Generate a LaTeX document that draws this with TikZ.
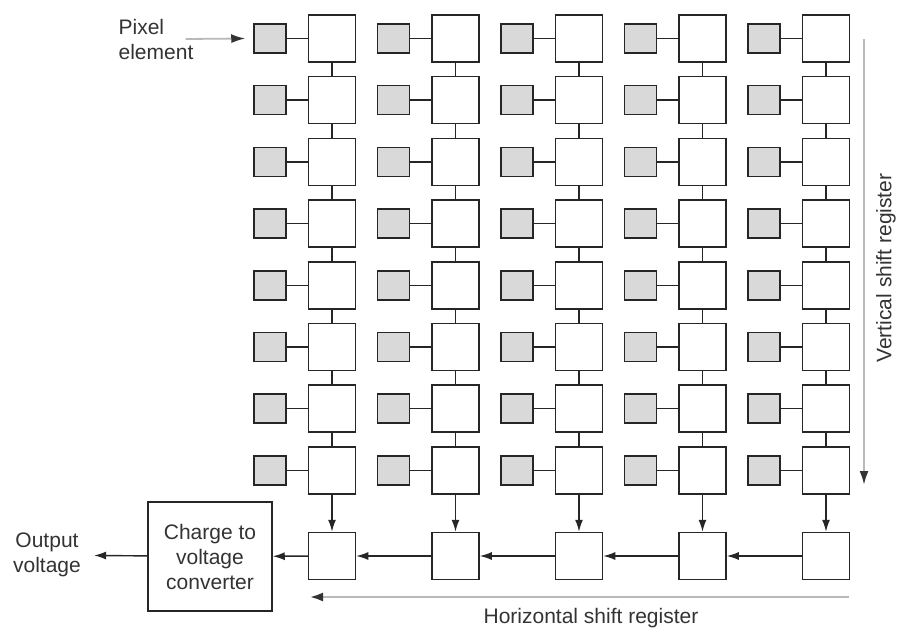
\documentclass[tikz,border=0pt]{standalone}
\usepackage{fontspec}
\setmainfont{Liberation Sans}
\usetikzlibrary{arrows.meta, positioning}

\begin{document}
\begin{tikzpicture}[
  x=1pt, y=-1pt,
  font=\fontsize{21}{25}\selectfont,
  cell/.style={rectangle, draw=black!85, line width=1.5pt, fill=white,
               minimum size=47pt, inner sep=0pt},
  pix/.style={rectangle, draw=black!85, line width=1.5pt, fill=gray!30,
              minimum width=32pt, minimum height=29pt, inner sep=0pt},
  wire/.style={draw=black!85, line width=1.5pt},
  flow/.style={-{Latex[length=12pt,width=8pt]}, draw=black!85, line width=1.4pt},
  regarrow/.style={-{Latex[length=14pt,width=9pt,color=black!80]}, draw=gray!55, line width=2.8pt},
  lbl/.style={text=black!80, align=center, inner sep=0pt}
]
  \useasboundingbox (0,0) rectangle (904,636);

  % pixel array
  \foreach \c in {1,...,5}{
    \foreach \r in {1,...,8}{
      \node[cell] (s\c\r) at ({332+123.5*(\c-1)}, {38.5+61.7*(\r-1)}) {};
      \node[pix, left=21pt of s\c\r] (p\c\r) {};
      \draw[wire] (p\c\r) -- (s\c\r);
    }
    \foreach \r [count=\n from 2] in {1,...,7}
      \draw[wire] (s\c\r) -- (s\c\n);
  }

  % horizontal register
  \foreach \c in {1,...,5}{
    \node[cell] (h\c) at ({332+123.5*(\c-1)}, 556) {};
    \draw[flow] (s\c8) -- (h\c);
  }
  \foreach \c [count=\n from 1] in {2,...,5}
    \draw[flow] (h\c) -- (h\n);

  % converter and output
  \node[cell, minimum width=124pt, minimum height=109pt, align=center, text=black!80]
    (conv) at (210,556.5) {Charge to\\voltage\\converter};
  \draw[flow] (h1) -- (conv);
  \node[lbl] (out) at (47,555) {Output\\voltage};
  \draw[flow, shorten >=13pt] (conv) -- (out);

  % pixel label
  \node[lbl, align=left] (pixlbl) at (156,39) {Pixel\\element};
  \draw[regarrow, line width=1.8pt]
    ([xshift=-8pt]pixlbl.east) -- ([xshift=-8pt]p11.west);

  % shift register directions
  \coordinate (vtop) at (864,39);
  \coordinate (vbot) at (864,485);
  \draw[regarrow, line width=2.2pt] (vtop) -- (vbot);
  \node[lbl, rotate=90] (vlbl) at (886,268) {Vertical shift register};

  \coordinate (hright) at (849,597);
  \coordinate (hleft) at (309,597);
  \draw[regarrow] (hright) -- (hleft);
  \node[lbl] (hlbl) at (591,618) {Horizontal shift register};
\end{tikzpicture}
\end{document}
